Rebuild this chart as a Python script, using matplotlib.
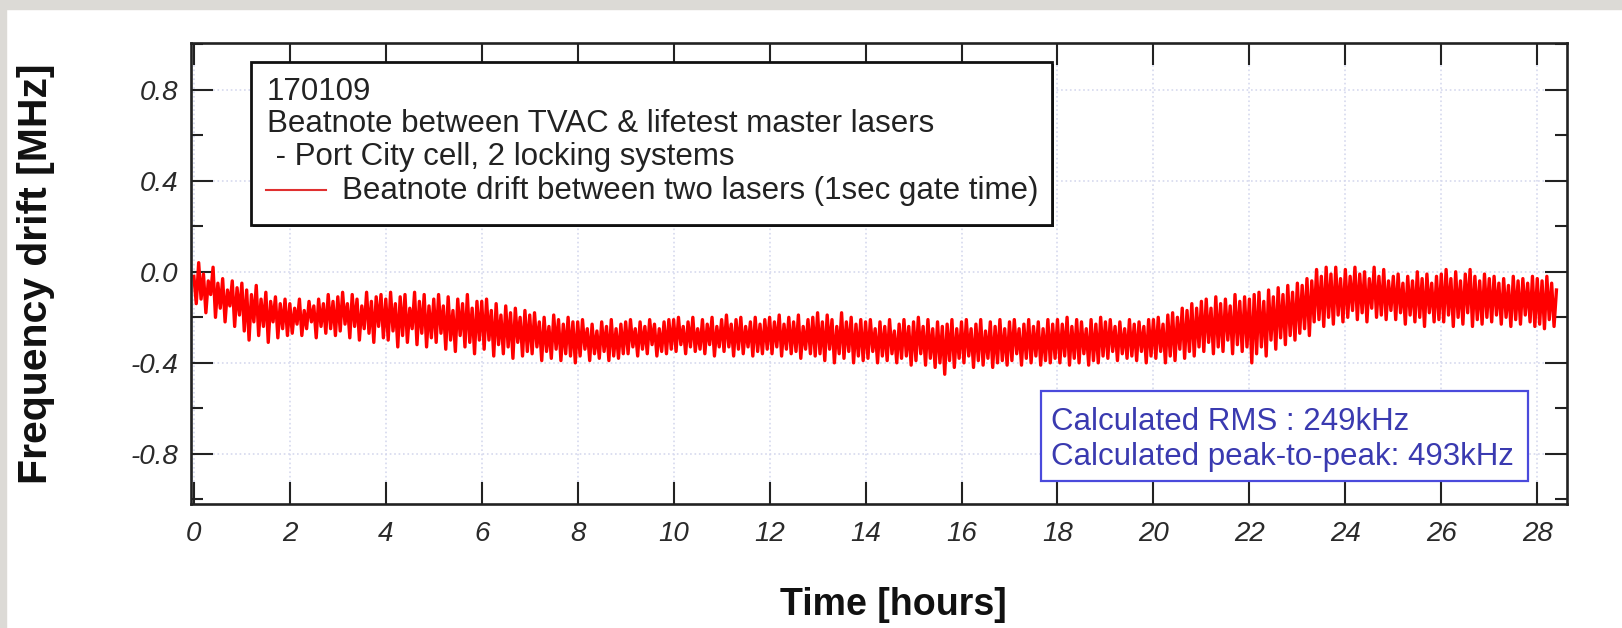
import numpy as np
import matplotlib
matplotlib.use("Agg")
import matplotlib.pyplot as plt
from matplotlib.patches import Rectangle
from matplotlib.ticker import MultipleLocator

plt.rcParams['font.family'] = ['Liberation Sans', 'DejaVu Sans']

# beatnote drift [MHz], one sample every 0.05 h (one row per hour)
t_step = 0.05
drift_mhz = [
    -0.02, -0.14, 0.04, -0.12, -0.01, -0.18, -0.04, -0.10, 0.02, -0.20, -0.05, -0.16, -0.03, -0.22, -0.08, -0.15, -0.04, -0.24, -0.07, -0.19,
    -0.05, -0.26, -0.08, -0.30, -0.10, -0.22, -0.06, -0.28, -0.12, -0.24, -0.09, -0.31, -0.13, -0.22, -0.11, -0.29, -0.14, -0.25, -0.12, -0.28,
    -0.14, -0.27, -0.16, -0.23, -0.12, -0.28, -0.17, -0.25, -0.13, -0.22, -0.15, -0.29, -0.12, -0.24, -0.14, -0.27, -0.10, -0.25, -0.13, -0.28,
    -0.11, -0.26, -0.09, -0.23, -0.14, -0.29, -0.10, -0.24, -0.12, -0.30, -0.15, -0.25, -0.09, -0.27, -0.13, -0.31, -0.11, -0.24, -0.10, -0.29,
    -0.12, -0.30, -0.09, -0.26, -0.14, -0.33, -0.11, -0.28, -0.10, -0.31, -0.16, -0.25, -0.09, -0.32, -0.13, -0.27, -0.10, -0.33, -0.15, -0.29,
    -0.12, -0.31, -0.10, -0.27, -0.15, -0.34, -0.11, -0.30, -0.17, -0.35, -0.12, -0.28, -0.14, -0.33, -0.10, -0.31, -0.16, -0.36, -0.13, -0.30,
    -0.13, -0.34, -0.12, -0.30, -0.17, -0.37, -0.14, -0.32, -0.19, -0.36, -0.15, -0.33, -0.18, -0.38, -0.16, -0.31, -0.20, -0.37, -0.17, -0.35,
    -0.19, -0.36, -0.18, -0.33, -0.22, -0.39, -0.20, -0.35, -0.24, -0.38, -0.19, -0.34, -0.21, -0.39, -0.23, -0.36, -0.20, -0.37, -0.22, -0.40,
    -0.22, -0.37, -0.21, -0.34, -0.25, -0.39, -0.23, -0.36, -0.26, -0.38, -0.22, -0.35, -0.24, -0.39, -0.21, -0.37, -0.25, -0.38, -0.23, -0.36,
    -0.22, -0.36, -0.21, -0.33, -0.25, -0.37, -0.22, -0.34, -0.24, -0.36, -0.21, -0.32, -0.23, -0.37, -0.25, -0.35, -0.22, -0.36, -0.21, -0.34,
    -0.21, -0.35, -0.20, -0.32, -0.24, -0.36, -0.22, -0.33, -0.20, -0.35, -0.25, -0.34, -0.21, -0.36, -0.23, -0.32, -0.20, -0.37, -0.24, -0.33,
    -0.21, -0.35, -0.19, -0.33, -0.23, -0.37, -0.21, -0.34, -0.20, -0.36, -0.24, -0.33, -0.22, -0.37, -0.20, -0.35, -0.23, -0.36, -0.21, -0.34,
    -0.20, -0.36, -0.22, -0.33, -0.19, -0.37, -0.23, -0.34, -0.20, -0.36, -0.22, -0.35, -0.19, -0.38, -0.24, -0.34, -0.21, -0.36, -0.20, -0.37,
    -0.18, -0.36, -0.22, -0.39, -0.19, -0.34, -0.21, -0.40, -0.24, -0.36, -0.18, -0.38, -0.22, -0.35, -0.20, -0.40, -0.23, -0.37, -0.21, -0.39,
    -0.22, -0.38, -0.21, -0.35, -0.25, -0.40, -0.22, -0.37, -0.24, -0.39, -0.21, -0.36, -0.26, -0.40, -0.23, -0.38, -0.21, -0.37, -0.24, -0.41,
    -0.22, -0.39, -0.20, -0.36, -0.24, -0.41, -0.21, -0.38, -0.25, -0.42, -0.22, -0.40, -0.24, -0.45, -0.23, -0.39, -0.21, -0.42, -0.25, -0.38,
    -0.22, -0.40, -0.21, -0.37, -0.25, -0.42, -0.23, -0.39, -0.21, -0.41, -0.26, -0.38, -0.22, -0.42, -0.24, -0.40, -0.21, -0.39, -0.25, -0.41,
    -0.22, -0.39, -0.21, -0.36, -0.25, -0.41, -0.23, -0.38, -0.21, -0.40, -0.24, -0.37, -0.22, -0.41, -0.25, -0.39, -0.21, -0.40, -0.23, -0.38,
    -0.21, -0.40, -0.23, -0.37, -0.20, -0.41, -0.24, -0.38, -0.21, -0.40, -0.22, -0.36, -0.25, -0.41, -0.21, -0.39, -0.23, -0.40, -0.20, -0.37,
    -0.22, -0.38, -0.21, -0.35, -0.24, -0.39, -0.22, -0.36, -0.25, -0.38, -0.21, -0.37, -0.23, -0.39, -0.22, -0.35, -0.24, -0.40, -0.21, -0.37,
    -0.21, -0.38, -0.20, -0.35, -0.23, -0.40, -0.19, -0.37, -0.18, -0.39, -0.20, -0.34, -0.16, -0.38, -0.17, -0.35, -0.14, -0.37, -0.16, -0.33,
    -0.13, -0.35, -0.12, -0.31, -0.16, -0.36, -0.11, -0.33, -0.14, -0.35, -0.12, -0.30, -0.15, -0.36, -0.10, -0.32, -0.13, -0.35, -0.11, -0.33,
    -0.12, -0.40, -0.10, -0.36, -0.09, -0.33, -0.13, -0.37, -0.08, -0.30, -0.11, -0.34, -0.07, -0.29, -0.10, -0.32, -0.06, -0.28, -0.09, -0.30,
    -0.05, -0.27, -0.06, -0.25, -0.03, -0.28, -0.04, -0.22, 0.01, -0.21, -0.02, -0.24, 0.02, -0.20, -0.01, -0.23, 0.02, -0.19, -0.03, -0.22,
    0.01, -0.20, -0.02, -0.17, 0.02, -0.21, -0.01, -0.18, 0.00, -0.22, -0.03, -0.16, 0.02, -0.20, -0.02, -0.19, 0.01, -0.21, -0.04, -0.17,
    -0.02, -0.21, -0.01, -0.18, -0.05, -0.23, -0.02, -0.19, -0.04, -0.22, 0.00, -0.20, -0.03, -0.24, -0.01, -0.18, -0.05, -0.22, -0.02, -0.21,
    -0.01, -0.22, 0.01, -0.19, -0.03, -0.24, 0.00, -0.20, -0.04, -0.23, -0.01, -0.18, 0.01, -0.24, -0.02, -0.21, -0.04, -0.23, -0.01, -0.20,
    -0.03, -0.22, -0.02, -0.19, -0.05, -0.23, -0.03, -0.20, -0.06, -0.24, -0.02, -0.21, -0.04, -0.23, -0.03, -0.19, -0.05, -0.22, -0.02, -0.24,
    -0.03, -0.23, -0.04, -0.25, -0.02, -0.21, -0.05, -0.24, -0.08,
]
time_h = np.arange(len(drift_mhz)) * t_step

x_ticks = list(range(0, 29, 2))
y_ticks = [-0.8, -0.4, 0.0, 0.4, 0.8]
y_ticklabels = ['-0.8', '-0.4', '0.0', '0.4', '0.8']

legend_lines = ['170109',
                'Beatnote between TVAC & lifetest master lasers',
                ' - Port City cell, 2 locking systems']
series_label = 'Beatnote drift between two lasers (1sec gate time)'
stats_lines = ['Calculated RMS : 249kHz', 'Calculated peak-to-peak: 493kHz']

fig = plt.figure(figsize=(16.22, 6.28), dpi=100)
# grey slide border at top and left
fig.patches.append(Rectangle((0, 0), 6 / 1622, 1, transform=fig.transFigure, color='#dcdad6', zorder=0))
fig.patches.append(Rectangle((0, 1 - 9 / 628), 1, 9 / 628, transform=fig.transFigure, color='#dcdad6', zorder=0))

ax = fig.add_axes([191 / 1622, 1 - 504 / 628, 1376 / 1622, 461 / 628])
ax.plot(time_h, drift_mhz, color='#ff0000', lw=2.4)

ax.set_xlim(-0.06, 28.62)
ax.set_ylim(-1.02, 1.005)
ax.set_xticks(x_ticks)
ax.set_yticks(y_ticks)
ax.set_yticklabels(y_ticklabels)
ax.yaxis.set_minor_locator(MultipleLocator(0.2))
ax.grid(True, which='major', linestyle=':', color='#d6d9ee', lw=1.2)

for s in ax.spines.values():
    s.set_linewidth(1.9)
    s.set_color('#222222')
ax.tick_params(which='both', direction='in', top=True, right=True, width=1.5, color='#222222')
ax.tick_params(which='major', length=16)
ax.tick_params(which='minor', length=8.5)
ax.tick_params(axis='x', pad=12)
ax.tick_params(axis='y', pad=9)
for lab in ax.get_xticklabels() + ax.get_yticklabels():
    lab.set_fontsize(20)
    lab.set_fontstyle('italic')
    lab.set_color('#2a2a2a')

fig.text(36 / 1622, 1 - 274 / 628, 'Frequency drift [MHz]', rotation=90, ha='center', va='center',
         fontsize=29.5, fontweight='bold', color='#111111')
fig.text(893 / 1622, 1 - 605 / 628, 'Time [hours]', ha='center', va='center',
         fontsize=27, fontweight='bold', color='#111111')

# annotation box with the series legend
ax.add_patch(Rectangle((0.0436 + 0.0015, 0.6052 - 0.005), 0.5821, 0.3536, transform=ax.transAxes,
                       facecolor='#111111', edgecolor='none', zorder=4))
ax.add_patch(Rectangle((0.0436, 0.6052), 0.5821, 0.3536, transform=ax.transAxes,
                       facecolor='white', edgecolor='#111111', lw=2.0, zorder=5))
for txt, yy in zip(legend_lines, [0.893, 0.824, 0.752]):
    ax.text(0.0552, yy, txt, transform=ax.transAxes, fontsize=22.5, color='#222222',
            ha='left', va='center', zorder=6)
ax.plot([0.0544, 0.0980], [0.681, 0.681], transform=ax.transAxes, color='#e03030', lw=1.5, zorder=6)
ax.text(0.1097, 0.678, series_label, transform=ax.transAxes, fontsize=22.5, color='#222222',
        ha='left', va='center', zorder=6)

# statistics box
ax.add_patch(Rectangle((0.6177, 0.0499), 0.3540, 0.1952, transform=ax.transAxes,
                       facecolor='white', edgecolor='#4a4adc', lw=1.6, zorder=5))
for txt, yy in zip(stats_lines, [0.1772, 0.1013]):
    ax.text(0.625, yy, txt, transform=ax.transAxes, fontsize=22.5, color='#3a3ab0',
            ha='left', va='center', zorder=6)

fig.savefig('out.png', dpi=100)
